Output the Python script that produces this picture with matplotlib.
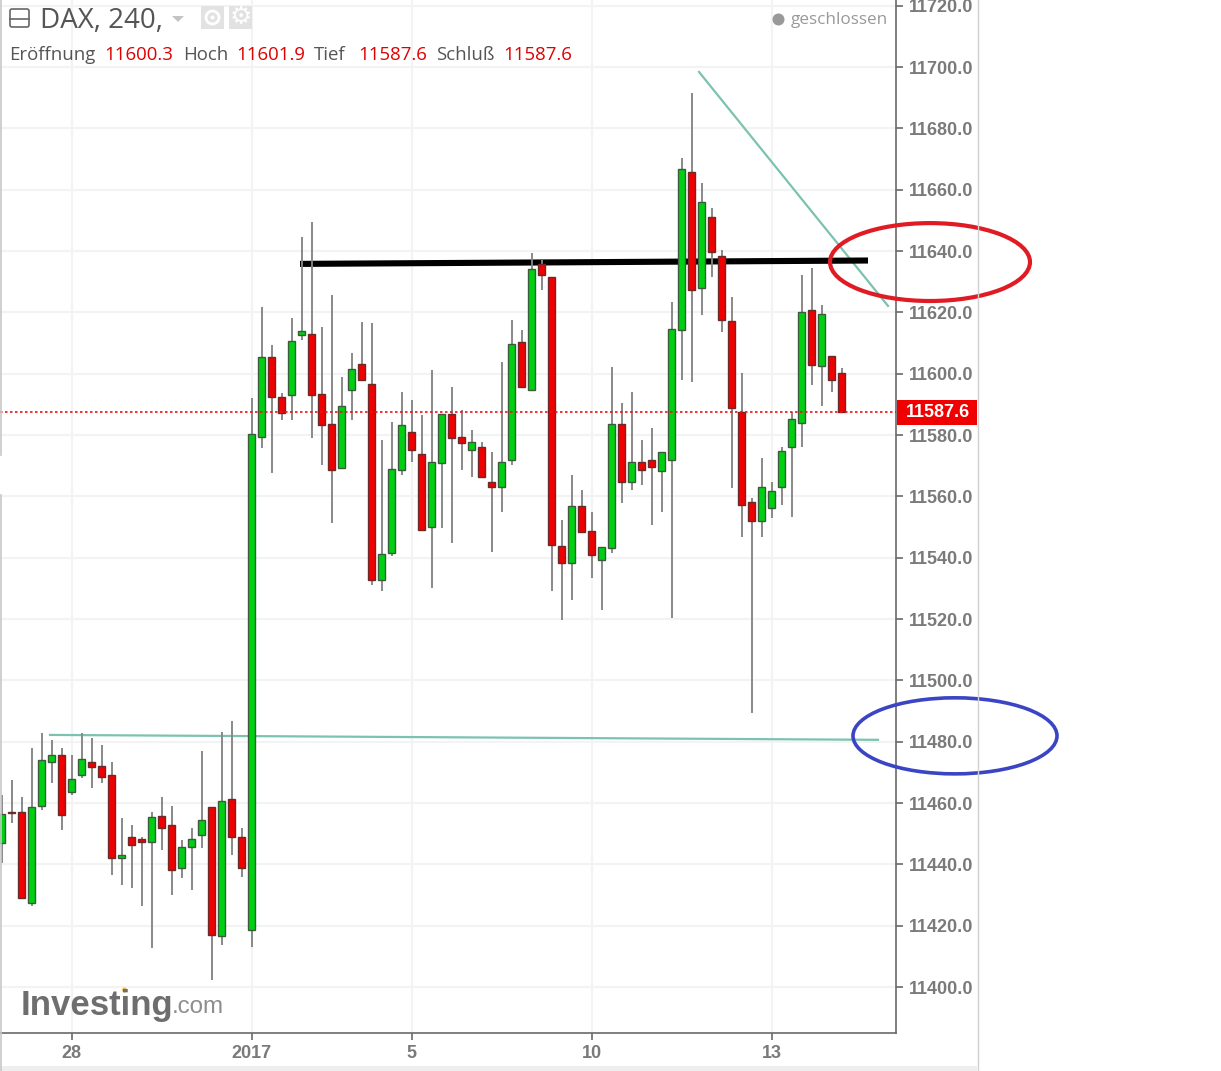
import matplotlib
matplotlib.use("Agg")
import matplotlib.pyplot as plt
from matplotlib.patches import Ellipse, FancyBboxPatch, Rectangle, Circle

# candle bodies + wicks (index 0 = leftmost candle)
body_top = [11456.4, 11457.2, 11457.0, 11458.7, 11473.9, 11475.5, 11475.5, 11467.9, 11474.4, 11473.3,
            11472.2, 11469.0, 11442.9, 11448.9, 11448.3, 11455.4, 11455.9, 11452.7, 11445.6, 11448.3,
            11454.3, 11458.7, 11460.8, 11461.4, 11448.9, 11580.4, 11605.4, 11605.4, 11592.3, 11610.8,
            11614.0, 11613.0, 11593.4, 11583.6, 11589.6, 11601.5, 11603.2, 11596.7, 11541.2, 11568.9,
            11583.1, 11580.9, 11573.8, 11571.1, 11586.9, 11586.9, 11579.3, 11577.7, 11576.0, 11564.6,
            11571.1, 11609.7, 11610.3, 11634.1, 11635.7, 11631.4, 11543.9, 11557.0, 11557.0, 11548.8,
            11543.4, 11583.6, 11583.6, 11571.1, 11571.1, 11571.7, 11574.4, 11614.6, 11666.7, 11665.7,
            11655.9, 11651.0, 11638.5, 11617.3, 11587.4, 11558.1, 11563.0, 11561.9, 11574.9, 11585.2,
            11620.0, 11620.6, 11619.5, 11605.9, 11600.3]
body_bot = [11447.1, 11456.8, 11429.0, 11427.4, 11459.1, 11473.5, 11456.2, 11463.7, 11469.2, 11471.9,
            11468.6, 11442.0, 11442.2, 11446.4, 11447.4, 11447.4, 11451.8, 11438.2, 11438.8, 11445.8,
            11449.6, 11417.0, 11416.5, 11448.8, 11438.8, 11418.7, 11579.5, 11592.5, 11587.1, 11593.1,
            11612.6, 11593.1, 11583.3, 11568.6, 11569.2, 11594.7, 11598.0, 11532.8, 11532.8, 11541.5,
            11568.6, 11575.1, 11549.1, 11550.1, 11570.8, 11579.0, 11577.3, 11575.1, 11566.4, 11563.2,
            11563.2, 11571.9, 11595.8, 11594.7, 11632.2, 11544.2, 11538.2, 11538.2, 11548.5, 11540.9,
            11539.3, 11543.1, 11564.8, 11564.8, 11568.6, 11569.7, 11568.1, 11571.9, 11614.3, 11627.3,
            11627.9, 11639.8, 11617.5, 11588.7, 11557.2, 11551.8, 11551.8, 11556.1, 11563.2, 11576.2,
            11583.8, 11602.9, 11602.5, 11598.0, 11587.6]
highs = [11462.7, 11467.6, 11462.1, 11477.9, 11482.9, 11480.6, 11478.0, 11475.7, 11482.9, 11481.3,
         11479.0, 11473.5, 11455.2, 11452.9, 11448.8, 11457.2, 11462.1, 11458.9, 11448.0, 11451.9,
         11476.8, 11458.7, 11483.3, 11486.6, 11451.9, 11592.0, 11621.9, 11609.4, 11593.7, 11618.1,
         11644.7, 11649.6, 11615.3, 11625.7, 11599.0, 11606.7, 11617.0, 11616.4, 11578.4, 11584.4,
         11594.1, 11591.4, 11586.6, 11601.2, 11586.9, 11595.8, 11588.2, 11581.7, 11577.8, 11574.6,
         11603.9, 11617.5, 11614.3, 11639.3, 11637.1, 11631.4, 11552.3, 11567.0, 11562.1, 11555.0,
         11543.4, 11602.3, 11590.5, 11594.1, 11578.4, 11582.2, 11574.4, 11623.5, 11670.2, 11691.4,
         11662.1, 11653.9, 11640.3, 11625.1, 11600.2, 11559.5, 11572.4, 11564.8, 11576.1, 11587.6,
         11632.2, 11634.4, 11622.4, 11605.9, 11601.9]
lows = [11440.5, 11453.5, 11429.0, 11426.3, 11457.8, 11466.6, 11451.3, 11462.7, 11468.2, 11465.0,
        11466.6, 11436.6, 11433.3, 11432.4, 11426.3, 11412.7, 11444.7, 11430.1, 11435.6, 11431.7,
        11445.4, 11402.4, 11413.8, 11443.1, 11436.0, 11413.2, 11575.7, 11567.5, 11584.9, 11584.9,
        11611.0, 11579.0, 11570.3, 11551.2, 11569.2, 11584.9, 11598.0, 11531.1, 11529.0, 11540.4,
        11567.0, 11571.3, 11549.1, 11530.1, 11549.6, 11544.7, 11568.6, 11566.4, 11566.4, 11542.0,
        11555.0, 11570.3, 11595.8, 11594.7, 11627.3, 11529.0, 11519.7, 11526.2, 11548.5, 11533.3,
        11523.0, 11541.5, 11557.8, 11562.1, 11563.7, 11550.7, 11555.0, 11520.3, 11598.0, 11597.4,
        11619.2, 11631.6, 11613.7, 11562.7, 11546.9, 11489.3, 11546.9, 11552.9, 11557.2, 11553.4,
        11576.2, 11596.3, 11589.3, 11594.1, 11587.6]
direction = "grrgggrggrrrgrrgrrgggrgrrggrrggrrrggrrgggrrggrrgrrggrgrrrgrrggrgrrgggrgrrrrrggggg" + "rgrr"

price_ticks = [11400, 11420, 11440, 11460, 11480, 11500, 11520, 11540, 11560, 11580,
               11600, 11620, 11640, 11660, 11680, 11700, 11720]
date_pos = [7, 25, 41, 59, 77]
date_labels = ["28", "2017", "5", "10", "13"]
last_price = 11587.6

# drawn trend lines (index, price)
black_x, black_y = [29.83, 86.63], [11635.8, 11636.9]
flat_x, flat_y = [4.83, 87.63], [11482.2, 11480.6]
down_x, down_y = [69.73, 88.63], [11698.4, 11622.1]

GREEN, RED = "#00d012", "#f00000"
GREY = "#7a7a7a"
TEAL = "#7cc2b0"

plt.rcParams["font.family"] = ["Open Sans", "DejaVu Sans"]
fig = plt.figure(figsize=(12.21, 10.71), dpi=100)
ax = fig.add_axes([0, 1 - 1033 / 1071, 896 / 1221, 1033 / 1071])
ax.set_xlim(-0.17, 89.43)
ax.set_ylim(11385.0, 11721.85)

for p in price_ticks:
    ax.axhline(p, color="#f3f3f3", lw=1.5, zorder=0)
for d in date_pos:
    ax.axvline(d, color="#f3f3f3", lw=1.5, zorder=0)

ax.plot(flat_x, flat_y, color=TEAL, lw=1.6, zorder=1, clip_on=False)
ax.plot(down_x, down_y, color=TEAL, lw=1.6, zorder=1, clip_on=False)
ax.plot(black_x, black_y, color="black", lw=4.4, zorder=1, clip_on=False, solid_capstyle="butt")

for i, kind in enumerate(direction):
    ax.vlines(i, lows[i], highs[i], color="#858585", lw=1.35, zorder=2)
    ax.bar(i, body_top[i] - body_bot[i], bottom=body_bot[i], width=0.72,
           color=GREEN if kind == "g" else RED, edgecolor="#3c5a3c" if kind == "g" else "#6a2a2a",
           lw=1.0, zorder=3)

ax.axhline(last_price, color="#f01010", lw=1.2, ls=(0, (1.5, 1.5)), zorder=4)

ax.add_patch(Ellipse((92.83, 11636.4), 20.0, 25.4, fill=False, ec="#e01b24", lw=3.0, zorder=5, clip_on=False))
ax.add_patch(Ellipse((95.33, 11481.9), 20.4, 24.8, fill=False, ec="#3b45c4", lw=2.6, zorder=5, clip_on=False))

for s in ["top", "left"]:
    ax.spines[s].set_visible(False)
ax.spines["right"].set_color("#6a6a6a")
ax.spines["bottom"].set_color("#6a6a6a")
ax.spines["right"].set_linewidth(1.2)
ax.spines["bottom"].set_linewidth(1.2)
ax.yaxis.tick_right()
ax.set_yticks(price_ticks)
ax.set_yticklabels([f"{p:.1f}" for p in price_ticks], family="Liberation Sans", weight="bold",
                   fontsize=13, color=GREY)
ax.set_xticks(date_pos)
ax.set_xticklabels(date_labels, family="Liberation Sans", weight="bold", fontsize=13, color=GREY)
ax.tick_params(axis="y", length=5, width=1.2, color="#6a6a6a", pad=4)
ax.tick_params(axis="x", length=5, width=1.2, color="#6a6a6a", pad=4)
for tick in ax.get_xticklabels():
    tick.set_x(tick.get_position()[0] - 0.1)

# overlay in pixel coordinates for the page furniture and header
top = fig.add_axes([0, 0, 1, 1], facecolor="none", zorder=10)
top.set_xlim(0, 1221)
top.set_ylim(1071, 0)
top.axis("off")

top.plot([977.5, 977.5], [0, 1071], color="#d0d0d0", lw=1)
top.plot([0.5, 0.5], [0, 455], color="#c8c8c8", lw=1.2)
top.plot([0.5, 0.5], [495, 1071], color="#c8c8c8", lw=1.2)
top.add_patch(Rectangle((0, 1066), 977, 5, color="#eeeeef", lw=0))

top.add_patch(Rectangle((897, 400), 80, 25, color="#f00000", lw=0))
top.text(938, 412.5, f"{last_price:.1f}", color="white", family="Liberation Sans", weight="bold",
         fontsize=13, ha="center", va="center")

top.add_patch(FancyBboxPatch((10, 9), 19, 18, boxstyle="round,pad=0,rounding_size=2", fill=False,
                             ec="#666666", lw=1.2))
top.plot([10, 29], [18.5, 18.5], color="#666666", lw=1.2)
top.text(40, 21, "DAX, 240,", color="#555555", fontsize=20, va="center")
top.fill([172, 184, 178], [16, 16, 22], color="#c4c4c4", lw=0)
top.add_patch(Rectangle((201, 6), 23, 23, color="#e2e2e2", lw=0))
top.add_patch(Rectangle((229, 6), 23, 23, color="#e2e2e2", lw=0))
top.add_patch(Circle((212.5, 17.5), 6.5, fill=False, ec="white", lw=2))
top.add_patch(Circle((212.5, 17.5), 2, color="white", lw=0))
top.text(240.5, 17.5, "\u2699", family="DejaVu Sans", color="white", fontsize=18, ha="center", va="center")

for x, label, is_value in [(9, "Eröffnung", False), (104, "11600.3", True), (183, "Hoch", False),
                           (236, "11601.9", True), (314, "Tief", False), (358, "11587.6", True),
                           (436, "Schluß", False), (503, "11587.6", True)]:
    top.text(x, 54.5, label, color="#e00000" if is_value else "#555555", fontsize=13.4, va="center")

top.add_patch(Circle((778.5, 19.5), 6, color="#999999", lw=0))
top.text(791, 19.5, "geschlossen", color="#999999", fontsize=12.3, va="center")

top.text(21, 1005, "Investing", color="#6e6e6e", family="Liberation Sans", weight="bold", fontsize=25,
         va="center")
top.text(172, 1007, ".com", color="#8e8e8e", family="Liberation Sans", fontsize=17.4, va="center")
top.add_patch(Circle((124.5, 990), 2.5, color="#f5b547", lw=0))

fig.savefig("out.png", dpi=100)
